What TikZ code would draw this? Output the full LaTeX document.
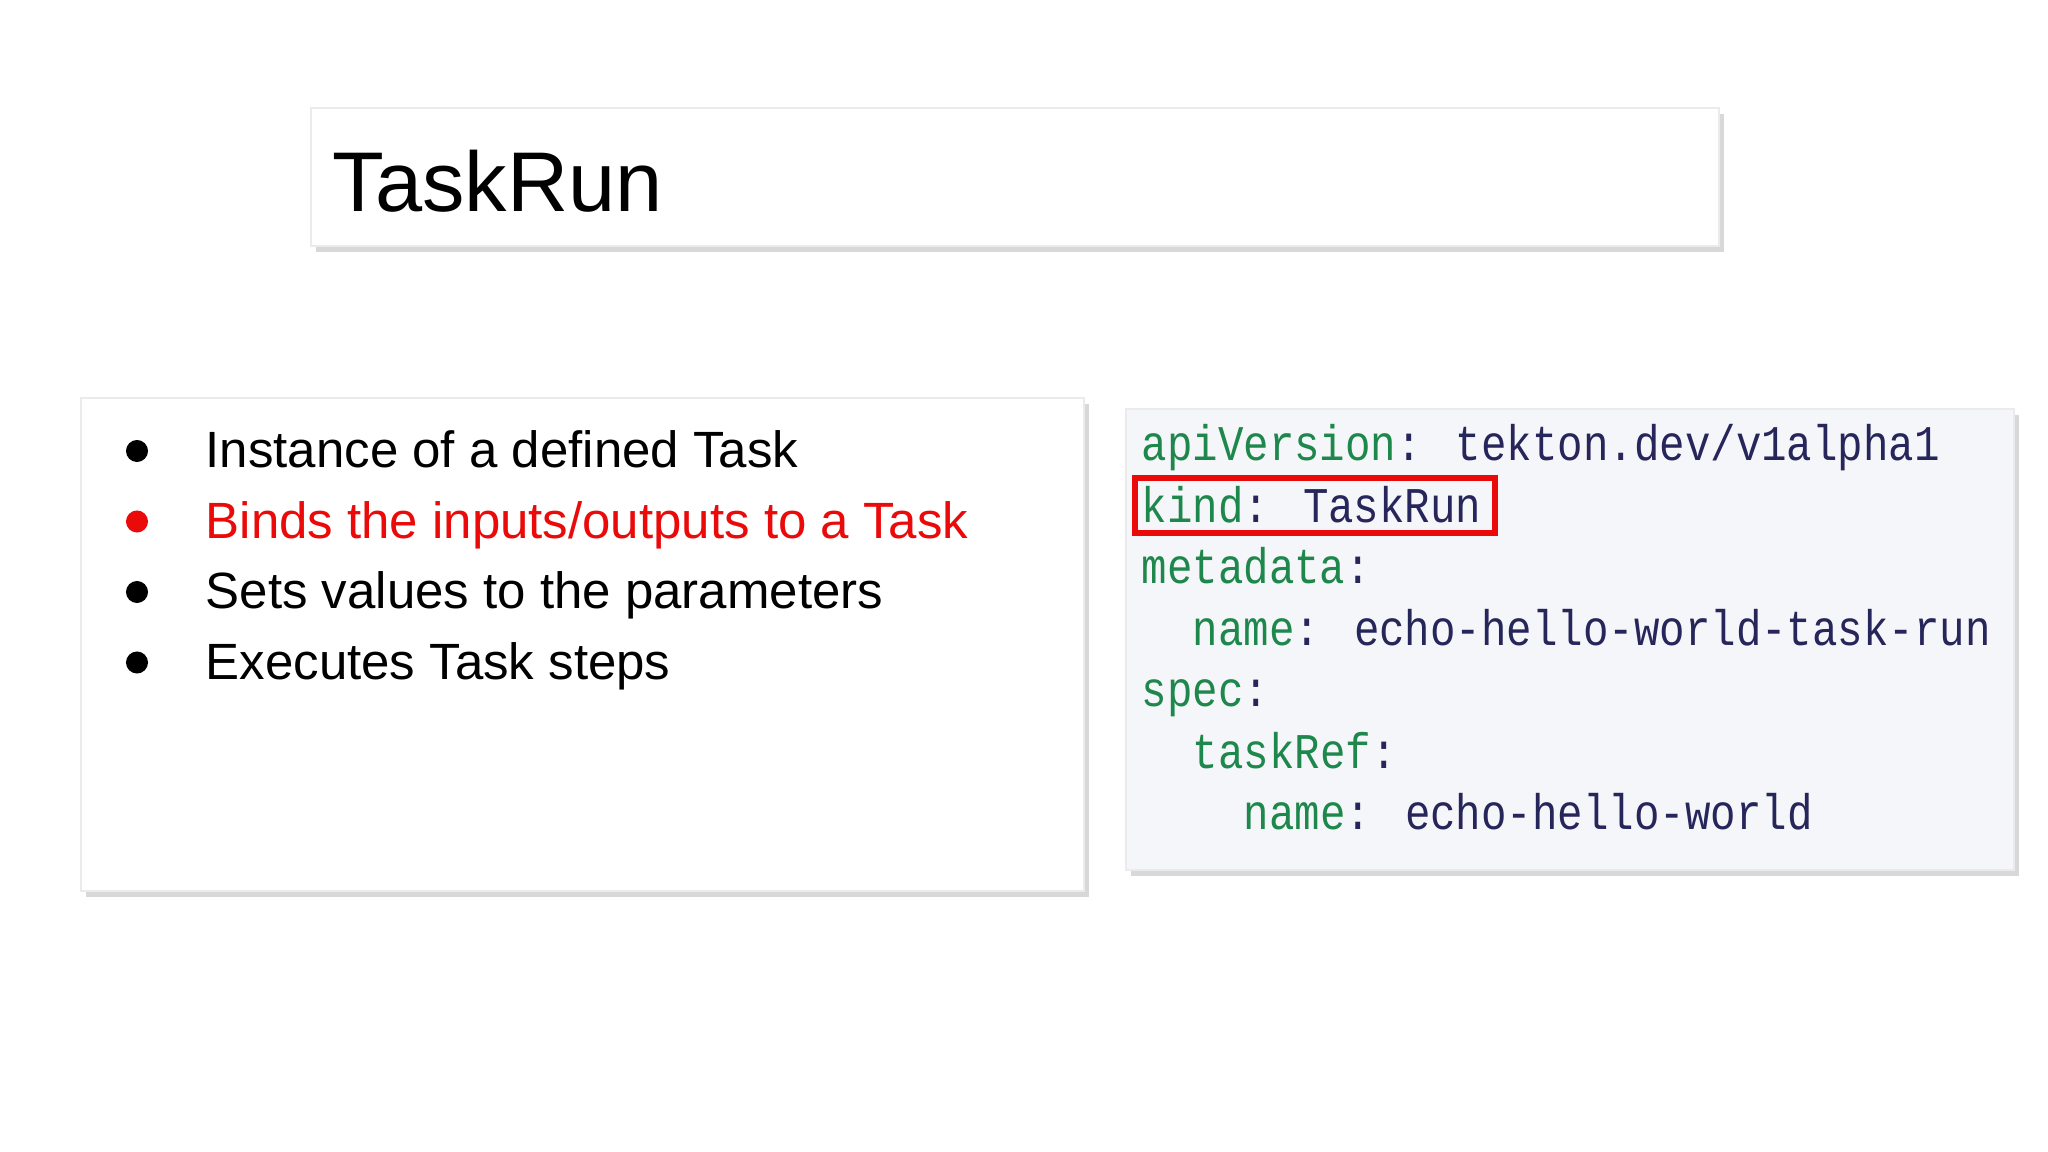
\documentclass[tikz,border=0pt]{standalone}
\usepackage{fontspec}
\setmainfont{Liberation Sans}
\newfontfamily\codefont[FakeStretch=0.85]{Liberation Mono}
\usetikzlibrary{shadows}
\definecolor{keyg}{RGB}{30,135,75}
\definecolor{valn}{RGB}{38,38,90}
\definecolor{codebg}{RGB}{245,246,250}
\definecolor{redt}{RGB}{235,10,10}
\tikzset{
  card/.style={draw=black!8, line width=0.5pt, drop shadow={shadow xshift=0.05cm, shadow yshift=-0.06cm, opacity=0.3}},
  bul/.style={anchor=base west, inner sep=0pt, font=\fontsize{14.5}{17}\selectfont},
  dot/.style={circle, inner sep=0pt, minimum size=0.22cm},
  code/.style={anchor=base west, inner sep=0pt, font=\codefont\fontsize{14.2}{16}\selectfont},
}
\begin{document}
\begin{tikzpicture}[x=0.01cm,y=-0.01cm]
\useasboundingbox[fill=white] (0,0) rectangle (2048,1152);
\fill[card,fill=white] (311,108) rectangle (1719,246);
\node[anchor=base west, inner sep=0pt, font=\fontsize{24.1}{29}\selectfont] (title) at (332,212) {TaskRun};
\fill[card,fill=white!97!black!2] (81,398) rectangle (1084,891);
\foreach \t/\c [count=\i from 0] in {Instance of a defined Task/black, Binds the inputs\slash outputs to a Task/redt, Sets values to the parameters/black, Executes Task steps/black}{
  \node[dot,fill=\c] (b\i) at (137,{451+70.5*\i}) {};
  \node[bul,text=\c] (t\i) at (205,{467.6+70.5*\i}) {\t};
}
\fill[card,fill=codebg] (1126,409) rectangle (2014,870);
\node[code] (c0) at (1141,461) {\textcolor{keyg}{apiVersion}\textcolor{valn}{: tekton.dev/v1alpha1}};
\node[code] (c1) at (1141,522.4) {\textcolor{keyg}{kind}\textcolor{valn}{: TaskRun}};
\node[code] (c2) at (1141,583.8) {\textcolor{keyg}{metadata}\textcolor{valn}{:}};
\node[code] (c3) at (1192,645.2) {\textcolor{keyg}{name}\textcolor{valn}{: echo-hello-world-task-run}};
\node[code] (c4) at (1141,706.6) {\textcolor{keyg}{spec}\textcolor{valn}{:}};
\node[code] (c5) at (1192,768) {\textcolor{keyg}{taskRef}\textcolor{valn}{:}};
\node[code] (c6) at (1243,829.4) {\textcolor{keyg}{name}\textcolor{valn}{: echo-hello-world}};
\draw[redt, line width=1.6pt] (1135,478) rectangle (1495,533);
\end{tikzpicture}
\end{document}
